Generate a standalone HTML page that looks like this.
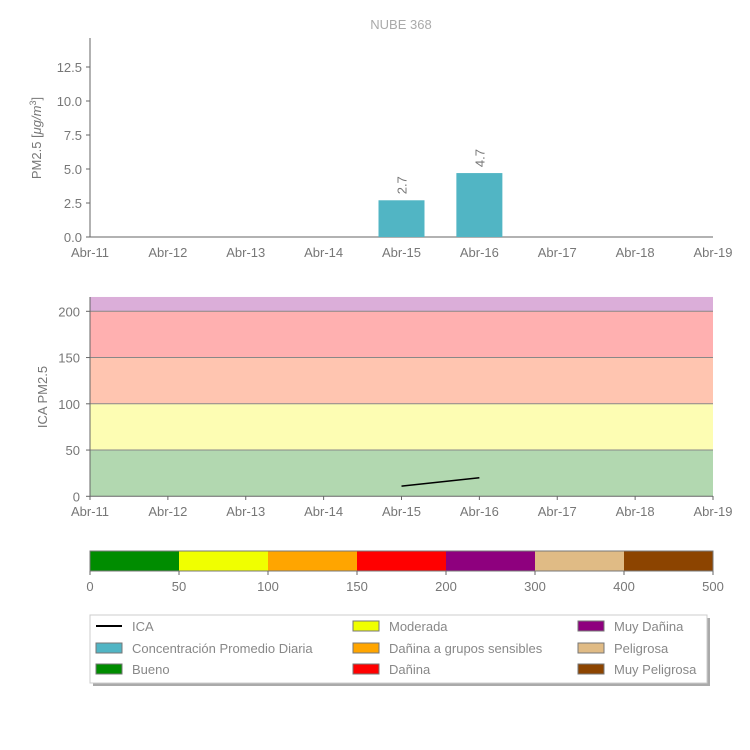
<!DOCTYPE html>
<html><head><meta charset="utf-8"><style>
body{margin:0;background:#fff;}
svg{display:block;font-family:"Liberation Sans",sans-serif;}
</style></head><body>
<svg id="s" width="750" height="750"></svg>
<script>
const days=["Abr-11","Abr-12","Abr-13","Abr-14","Abr-15","Abr-16","Abr-17","Abr-18","Abr-19"];
const pmDays=["Abr-15","Abr-16"];
const pmValues=[2.7,4.7];
const pmTicks=[0,2.5,5,7.5,10,12.5];
const icaDays=["Abr-15","Abr-16"];
const icaValues=[11,20];
const icaTicks=[0,50,100,150,200];
const bandLimits=[0,50,100,150,200,215.5];
const bandColors=["#b2d8b0","#fdfdb3","#ffc5b0","#ffb0b0","#dbaed9"];
const scaleTicks=["0","50","100","150","200","300","400","500"];
const scaleColors=["#008c00","#f0ff00","#ffa500","#ff0000","#8e007e","#e0bb85","#8c4400"];

const S=document.getElementById('s'),NS="http://www.w3.org/2000/svg";
function mk(t,a,p){const e=document.createElementNS(NS,t);for(const k in a)e.setAttribute(k,a[k]);(p||S).appendChild(e);return e;}
const X0=90,X1=713;
const xd=d=>X0+days.indexOf(d)*(X1-X0)/(days.length-1);
const y1=v=>237-v*13.6;
const y2=v=>496.3-v*0.925;
const grey="#888";
// title
let t=mk('text',{x:401,y:29,'text-anchor':'middle','font-size':13,fill:'#aaa'});t.textContent="NUBE 368";

// top chart
mk('line',{x1:X0,y1:38,x2:X0,y2:237,stroke:'#666'});
mk('line',{x1:X0,y1:237,x2:X1,y2:237,stroke:'#666'});
pmTicks.forEach(v=>{mk('line',{x1:X0-4,x2:X0,y1:y1(v),y2:y1(v),stroke:'#666'});
 let e=mk('text',{x:X0-8,y:y1(v)+5,'text-anchor':'end','font-size':13,fill:'#777'});e.textContent=v.toFixed(1);
 });
days.forEach(d=>{let e=mk('text',{x:xd(d),y:257,'text-anchor':'middle','font-size':13,fill:'#777'});e.textContent=d;
 });
pmDays.forEach((d,i)=>{const v=pmValues[i];
 let r=mk('rect',{x:xd(d)-23,y:y1(v),width:46,height:237-y1(v),fill:'#51b5c4'});
 
 let e=mk('text',{transform:`translate(${xd(d)+5},${y1(v)-6}) rotate(-90)`,'font-size':13,fill:'#777'});e.textContent=v.toFixed(1);
 });
t=mk('text',{transform:'translate(41,138) rotate(-90)','text-anchor':'middle','font-size':13,fill:'#777'});
t.innerHTML='PM2.5 [<tspan font-style="italic">μg/m</tspan><tspan dy="-5" font-size="9">3</tspan><tspan dy="5">]</tspan>';

// bottom chart bands
for(let i=0;i<bandColors.length;i++){
 let r=mk('rect',{x:X0,y:y2(bandLimits[i+1]),width:X1-X0,height:y2(bandLimits[i])-y2(bandLimits[i+1]),fill:bandColors[i]});
 
 if(i>0)mk('line',{x1:X0,x2:X1,y1:y2(bandLimits[i]),y2:y2(bandLimits[i]),stroke:'#888'});
}
mk('line',{x1:X0,y1:297,x2:X0,y2:496.3,stroke:'#666'});
mk('line',{x1:X0,y1:496.3,x2:X1,y2:496.3,stroke:'#666'});
icaTicks.forEach(v=>{mk('line',{x1:X0-4,x2:X0,y1:y2(v),y2:y2(v),stroke:'#666'});
 let e=mk('text',{x:X0-10,y:y2(v)+5,'text-anchor':'end','font-size':13,fill:'#777'});e.textContent=v;
 });
days.forEach(d=>{mk('line',{x1:xd(d),x2:xd(d),y1:496,y2:500,stroke:'#666'});
 let e=mk('text',{x:xd(d),y:516,'text-anchor':'middle','font-size':13,fill:'#777'});e.textContent=d;
 });
let pts=icaDays.map((d,i)=>xd(d)+','+y2(icaValues[i])).join(' ');
let pl=mk('polyline',{points:pts,fill:'none',stroke:'#000','stroke-width':1.5});

t=mk('text',{transform:'translate(47,397) rotate(-90)','text-anchor':'middle','font-size':13,fill:'#777'});t.textContent='ICA PM2.5';

// color scale
const sw=(X1-X0)/scaleColors.length;
scaleColors.forEach((c,i)=>{let r=mk('rect',{x:X0+i*sw,y:551,width:sw,height:20,fill:c});
 });
mk('rect',{x:X0,y:551,width:X1-X0,height:20,fill:'none',stroke:'#777'});
scaleTicks.forEach((l,i)=>{const x=X0+i*sw;mk('line',{x1:x,x2:x,y1:571,y2:575,stroke:'#666'});
 let e=mk('text',{x:x,y:591,'text-anchor':'middle','font-size':13,fill:'#777'});e.textContent=l;
 });
// legend
mk('rect',{x:93,y:618,width:617,height:68,fill:'#aaa'});
let lg=mk('rect',{x:90,y:615,width:617,height:68,fill:'#fff',stroke:'#ccc'});

const leg=[["ICA",null,96,626],["Concentración Promedio Diaria","#51b5c4",96,648],["Bueno","#008c00",96,669],
["Moderada","#f0ff00",353,626],["Dañina a grupos sensibles","#ffa500",353,648],["Dañina","#ff0000",353,669],
["Muy Dañina","#8e007e",578,626],["Peligrosa","#e0bb85",578,648],["Muy Peligrosa","#8c4400",578,669]];
leg.forEach(([l,c,x,y])=>{
 if(c)mk('rect',{x:x,y:y-5,width:26,height:10,fill:c,stroke:'#777'});
 else mk('line',{x1:x,x2:x+26,y1:y,y2:y,stroke:'#000','stroke-width':2});
 let e=mk('text',{x:x+36,y:y+5,'font-size':13,fill:'#888'});e.textContent=l;
 });
</script>
</body></html>
